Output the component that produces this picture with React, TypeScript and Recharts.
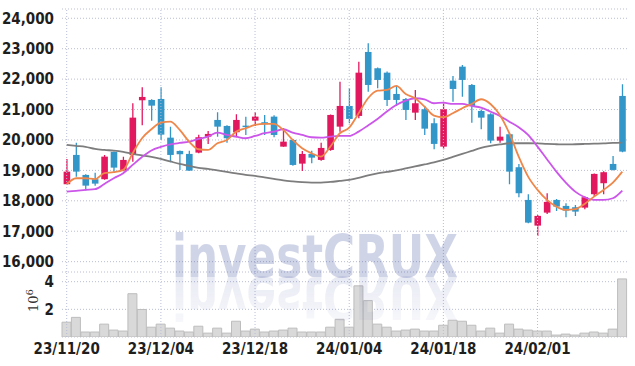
import React from 'react';
import {
    ComposedChart,
    BarChart,
    Bar,
    Line,
    XAxis,
    YAxis,
    CartesianGrid,
    ReferenceLine,
    ReferenceArea
} from 'recharts';

// trading days shown on the chart
const dates = [
    '23/11/20', '23/11/21', '23/11/22', '23/11/23', '23/11/24', '23/11/27', '23/11/28', '23/11/29', '23/11/30', '23/12/01',
    '23/12/04', '23/12/05', '23/12/06', '23/12/07', '23/12/08', '23/12/11', '23/12/12', '23/12/13', '23/12/14', '23/12/15',
    '23/12/18', '23/12/19', '23/12/20', '23/12/21', '23/12/22', '23/12/26', '23/12/27', '23/12/28', '24/01/02', '24/01/03',
    '24/01/04', '24/01/05', '24/01/08', '24/01/09', '24/01/10', '24/01/11', '24/01/12', '24/01/15', '24/01/16', '24/01/17',
    '24/01/18', '24/01/19', '24/01/22', '24/01/23', '24/01/24', '24/01/25', '24/01/26', '24/01/29', '24/01/30', '24/01/31',
    '24/02/01', '24/02/02', '24/02/05', '24/02/06', '24/02/07', '24/02/08', '24/02/13', '24/02/14', '24/02/15', '24/02/16'
];

const tickDates = ['23/11/20', '23/12/04', '23/12/18', '24/01/04', '24/01/18', '24/02/01'];

const opens = [
    18545, 19508, 18851, 18710, 18710, 19607, 18992, 19508, 21305, 21315,
    21348, 20076, 19639, 19541, 19584, 20109, 20658, 20461, 20254, 20471,
    20635, 20583, 20767, 19781, 20001, 19222, 19541, 19344, 19672, 20438,
    21118, 20790, 22893, 22357, 22212, 21512, 21348, 20898, 21010, 20550,
    19781, 21950, 22410, 21808, 20954, 20845, 19978, 20188, 19104, 18029,
    17185, 17612, 18029, 17832, 17789, 17776, 18217, 18578, 19212, 21447
];

const highs = [
    19377, 19912, 18870, 18926, 19508, 19620, 19452, 21207, 21733, 21340,
    21733, 20438, 19650, 19649, 20175, 20297, 20911, 20480, 20845, 20767,
    20911, 20822, 20812, 20385, 20030, 19639, 19649, 19912, 20840, 21917,
    21700, 22574, 23178, 22380, 22250, 21775, 21380, 21644, 21118, 20714,
    21259, 22104, 22465, 21840, 21000, 20880, 20438, 20230, 19212, 18217,
    17530, 18249, 18060, 17921, 17865, 18150, 18900, 18970, 19475, 21831
];

const lows = [
    18545, 18795, 18335, 18499, 18690, 18959, 18970, 19288, 20484, 20635,
    20000, 19268, 19015, 18992, 19560, 19870, 20109, 19912, 20090, 20165,
    20461, 20165, 20090, 19781, 19150, 18982, 19235, 19320, 19649, 20274,
    20550, 20714, 21588, 21700, 21118, 21118, 20658, 20658, 20165, 19695,
    19695, 21259, 21424, 20569, 20353, 19892, 19912, 18545, 18118, 17260,
    16846, 17569, 17668, 17461, 17504, 17724, 18138, 18217, 19000, 19600
];

const closes = [
    18959, 18959, 18499, 18565, 19452, 19091, 19344, 20734, 21414, 21128,
    20175, 19508, 19531, 18992, 20090, 20198, 20438, 20057, 20658, 20428,
    20767, 20517, 20165, 19945, 19179, 19541, 19419, 19738, 20822, 21118,
    20691, 22212, 21808, 21973, 21315, 21315, 20987, 21207, 20372, 19870,
    21010, 21677, 21973, 21118, 20734, 19978, 20109, 18959, 18249, 17283,
    17504, 17964, 17809, 17678, 17645, 18118, 18884, 18940, 19015, 19617
];

// moving averages as drawn
const ma5 = [
    18545, 18742, 18742, 18710, 18907, 18940, 19015, 19564, 20057, 20353,
    20569, 20602, 20330, 19945, 19695, 19672, 19892, 20001, 20274, 20385,
    20494, 20527, 20527, 20330, 20001, 19728, 19564, 19452, 19781, 20221,
    20405, 20878, 21371, 21621, 21644, 21775, 21512, 21371, 21095, 20800,
    20747, 20878, 21043, 21184, 21338, 21184, 20822, 20221, 19452, 18795,
    18358, 18029, 17809, 17700, 17724, 17898, 18138, 18358, 18598, 18959
];

const ma20 = [
    18302, 18325, 18358, 18381, 18555, 18742, 18907, 19179, 19442, 19656,
    19771, 19853, 19902, 19945, 20034, 20109, 20241, 20165, 20109, 20057,
    20132, 20221, 20274, 20353, 20241, 20165, 20090, 20077, 20109, 20132,
    20132, 20274, 20477, 20691, 20937, 21151, 21292, 21371, 21338, 21207,
    21227, 21184, 21184, 21118, 21062, 20931, 20790, 20602, 20418, 20165,
    19781, 19367, 18959, 18598, 18302, 18118, 18029, 18029, 18085, 18335
];

const ma60 = [
    19837, 19804, 19771, 19705, 19672, 19649, 19607, 19541, 19492, 19442,
    19377, 19294, 19212, 19147, 19081, 19048, 18999, 18949, 18900, 18851,
    18818, 18769, 18719, 18670, 18637, 18611, 18598, 18598, 18621, 18653,
    18686, 18752, 18834, 18900, 18949, 18999, 19064, 19130, 19196, 19262,
    19344, 19442, 19541, 19639, 19738, 19804, 19853, 19892, 19892, 19892,
    19886, 19869, 19860, 19853, 19860, 19869, 19879, 19886, 19902, 19912
];

// volume in millions
const volumes = [
    1.07, 1.42, 0.36, 0.36, 0.93, 0.5, 0.43, 3.13, 1.99, 0.71,
    0.93, 0.64, 0.43, 0.36, 0.78, 0.28, 0.64, 0.28, 1.14, 0.43,
    0.57, 0.36, 0.43, 0.5, 0.64, 0.36, 0.36, 0.36, 0.71, 1.28,
    0.71, 3.7, 2.63, 0.93, 0.71, 0.43, 0.5, 0.57, 0.43, 0.43,
    0.85, 1.21, 1.14, 0.85, 0.43, 0.64, 0.28, 0.93, 0.57, 0.5,
    0.43, 0.43, 0.14, 0.21, 0.14, 0.28, 0.36, 0.28, 0.57, 4.2
];

const priceTicks = [16000, 17000, 18000, 19000, 20000, 21000, 22000, 23000, 24000];
const volumeTicks = [2, 4];

const UP = '#e2185e';
const DOWN = '#3396c9';
const GRID = '#b9bdd4';
const FRAME = '#cccccc';
const TICK_STYLE = {
    fontSize: 15,
    fontWeight: 700,
    fontFamily: "'Liberation Sans Narrow', 'DejaVu Sans Condensed', 'Roboto', sans-serif",
    fill: '#1e1e1e'
};
const MARK_FONT = "'DejaVu Sans', sans-serif";

const data = dates.map((date, i) => ({
    date,
    open: opens[i],
    high: highs[i],
    low: lows[i],
    close: closes[i],
    ma5: ma5[i],
    ma20: ma20[i],
    ma60: ma60[i],
    volume: volumes[i]
}));

const Candle = (props: any) => {
    const { x, y, width, height, payload } = props;
    if (x == null || y == null || !payload) return null;
    const { open, close, high, low } = payload;
    const top = Math.min(y, y + height);
    const span = Math.abs(height);
    const k = high > low ? span / (high - low) : 0;
    const py = (v: number) => top + (high - v) * k;
    const cx = x + width / 2;
    const color = close >= open ? UP : DOWN;
    const bodyTop = py(Math.max(open, close));
    const bodyBottom = py(Math.min(open, close));
    const bw = 6.6;
    return (
        <g>
            <line x1={cx} x2={cx} y1={top} y2={top + span} stroke={color} strokeWidth={1.3} />
            <rect
                x={cx - bw / 2}
                y={bodyTop}
                width={bw}
                height={Math.max(1.5, bodyBottom - bodyTop)}
                fill={color}
            />
        </g>
    );
};

const App: React.FC = () => {
    return (
        <div style={{ position: 'absolute', left: 0, top: 0, width: 635, height: 366, background: '#fff' }}>
            <div style={{ position: 'absolute', left: 0, top: 0 }}>
                <ComposedChart
                    width={635}
                    height={272}
                    data={data}
                    margin={{ top: 9, right: 8, bottom: 0, left: 5 }}
                    barCategoryGap="15%"
                >
                    <CartesianGrid vertical={false} stroke={GRID} strokeDasharray="1 2" />
                    <XAxis dataKey="date" hide />
                    <YAxis
                        type="number"
                        domain={[15660, 24305]}
                        ticks={priceTicks}
                        allowDataOverflow
                        width={57}
                        axisLine={false}
                        tickLine={false}
                        tick={TICK_STYLE}
                        tickFormatter={(v: number) => v.toLocaleString('en-US')}
                    />
                    {tickDates.map((d) => (
                        <ReferenceLine key={d} x={d} stroke={GRID} strokeDasharray="1 2" />
                    ))}
                    <ReferenceArea stroke={FRAME} fill="none" strokeWidth={1} />
                    <Bar dataKey={(d: any) => [d.low, d.high]} shape={Candle} isAnimationActive={false} />
                    <Line type="monotone" dataKey="ma60" stroke="#7d7d7d" strokeWidth={1.8} dot={false} isAnimationActive={false} />
                    <Line type="monotone" dataKey="ma20" stroke="#cc55ea" strokeWidth={1.8} dot={false} isAnimationActive={false} />
                    <Line type="monotone" dataKey="ma5" stroke="#ef874a" strokeWidth={1.8} dot={false} isAnimationActive={false} />
                </ComposedChart>
            </div>

            <div style={{ position: 'absolute', left: 0, top: 272 }}>
                <BarChart
                    width={635}
                    height={94}
                    data={data}
                    margin={{ top: 0, right: 8, bottom: 0, left: 5 }}
                    barCategoryGap={0}
                    barGap={0}
                >
                    <CartesianGrid vertical={false} stroke={GRID} strokeDasharray="1 2" />
                    <XAxis
                        dataKey="date"
                        ticks={tickDates}
                        interval={0}
                        height={29}
                        axisLine={false}
                        tickLine={false}
                        tickMargin={0}
                        tick={TICK_STYLE}
                    />
                    <YAxis
                        type="number"
                        domain={[0, 4.7]}
                        ticks={volumeTicks}
                        allowDataOverflow
                        width={57}
                        axisLine={false}
                        tickLine={false}
                        tick={TICK_STYLE}
                    />
                    {tickDates.map((d) => (
                        <ReferenceLine key={d} x={d} stroke={GRID} strokeDasharray="1 2" />
                    ))}
                    <Bar dataKey="volume" fill="#d9d9d9" stroke="#bdbdbd" strokeWidth={1} isAnimationActive={false} />
                    <ReferenceArea stroke={FRAME} fill="none" strokeWidth={1} />
                </BarChart>
            </div>

            {/* watermark + volume unit */}
            <svg
                width={635}
                height={366}
                style={{ position: 'absolute', left: 0, top: 0, pointerEvents: 'none' }}
            >
                <defs>
                    <linearGradient id="fade" x1="0" y1="0" x2="0" y2="1">
                        <stop offset="0%" stopColor="#fff" stopOpacity={1} />
                        <stop offset="100%" stopColor="#fff" stopOpacity={0.2} />
                    </linearGradient>
                    <mask id="reflMask" maskUnits="userSpaceOnUse" x="0" y="272" width="635" height="60">
                        <rect x="0" y="272" width="635" height="60" fill="url(#fade)" />
                    </mask>
                </defs>
                <text
                    x={172}
                    y={277}
                    textLength={286}
                    lengthAdjust="spacingAndGlyphs"
                    fontSize={58}
                    fontWeight={700}
                    fontFamily={MARK_FONT}
                    fill="#3a4c9c"
                    fillOpacity={0.24}
                >
                    investCRUX
                </text>
                <g mask="url(#reflMask)">
                    <g transform="translate(0 554) scale(1 -1)">
                        <text
                            x={172}
                            y={277}
                            textLength={286}
                            lengthAdjust="spacingAndGlyphs"
                            fontSize={58}
                            fontWeight={700}
                            fontFamily={MARK_FONT}
                            fill="#3a4c9c"
                            fillOpacity={0.12}
                        >
                            investCRUX
                        </text>
                    </g>
                </g>
                <text
                    transform="translate(38 312) rotate(-90)"
                    fontSize={13}
                    fontFamily="'DejaVu Serif', serif"
                    fill="#333"
                >
                    10
                    <tspan dy={-5} fontSize={10}>6</tspan>
                </text>
            </svg>
        </div>
    );
};

export default App;
